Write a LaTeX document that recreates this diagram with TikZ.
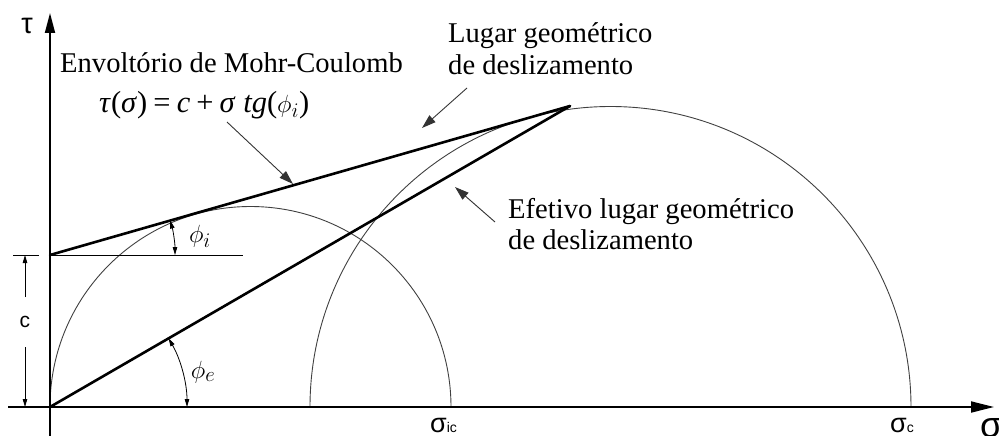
\documentclass[tikz,border=0pt]{standalone}
\usepackage{fontspec}
\setmainfont{Liberation Serif}
\newfontfamily\sansf{Liberation Sans}
\usetikzlibrary{arrows.meta}
\begin{document}
\begin{tikzpicture}[x=1pt,y=-1pt,
  txt/.style={font=\fontsize{28.6}{31.5}\selectfont, inner sep=0pt, anchor=base west},
  circ/.style={line width=0.9pt, black!75},
  thickl/.style={line width=2.6pt, line join=round, line cap=round},
  axisl/.style={line width=1.8pt},
  thinl/.style={line width=0.8pt},
  ann/.style={line width=0.9pt, black!80, -{Triangle[length=14pt,width=9pt]}},
  smallarr/.style={thinl, -{Triangle[length=8pt,width=4.5pt]}},
  dblarr/.style={thinl, {Triangle[length=8pt,width=4.5pt]}-{Triangle[length=8pt,width=4.5pt]}},
  sanslab/.style={font=\sansf\fontsize{27}{30}\selectfont, inner sep=0pt, anchor=base west}]
\useasboundingbox (0,0) rectangle (999,436);
% key points
\coordinate (O) at (50,407);
\coordinate (C) at (50,255);
\coordinate (A) at (570,106);
\coordinate (H) at (243,255);
\coordinate (Yb) at (50,436);
\coordinate (Yt) at (50,13);
\coordinate (Xl) at (8,407);
\coordinate (Xr) at (994,407);
\coordinate (BL) at (310,407);
% Mohr circles
\draw[circ] (O) arc[start angle=180, end angle=360, radius=200.5];
\draw[circ] (BL) arc[start angle=180, end angle=360, radius=300.5];
% horizontal reference and tick
\draw[thinl] (C) -- (H);
\coordinate (T1) at (13,255);
\coordinate (T2) at (39,255);
\draw[thinl] (T1) -- (T2);
% axes
\draw[axisl, -{Triangle[length=20pt,width=10pt]}] (Yb) -- (Yt);
\draw[axisl, -{Triangle[length=23pt,width=11pt]}] (Xl) -- (Xr);
% envelopes
\draw[thickl] (C) -- (A);
\draw[thickl] (O) -- (A);
% angle arcs
\coordinate (Pi) at (175,255);
\coordinate (Pe) at (187,407);
\draw[dblarr] (Pi) arc[start angle=0, end angle=-16, radius=125];
\draw[dblarr] (Pe) arc[start angle=0, end angle=-30.07, radius=137];
\node[font=\fontsize{29}{30}\selectfont, inner sep=0pt] (phii) at (200,236) {$\phi_i$};
\node[font=\fontsize{29}{30}\selectfont, inner sep=0pt] (phie) at (203,372) {$\phi_e$};
% c dimension
\node[font=\sansf\fontsize{21}{24}\selectfont, inner sep=0pt] (clab) at (25,322) {c};
\coordinate (cT) at (25,297);
\coordinate (cB) at (25,347);
\coordinate (cTe) at (25,255);
\coordinate (cBe) at (25,407);
\draw[smallarr] (cT) -- (cTe);
\draw[smallarr] (cB) -- (cBe);
% axis labels
\node[font=\sansf\fontsize{29}{30}\selectfont, inner sep=0pt] (tau) at (27,26) {τ};
\node[font=\sansf\fontsize{36}{38}\selectfont, inner sep=0pt, anchor=base west] (sig) at (980,437) {σ};
\node[sanslab] (sic) at (430,432) {σ{\fontsize{14}{14}\selectfont ic}};
\node[sanslab] (sc) at (890,432) {σ{\fontsize{14}{14}\selectfont c}};
% texts
\node[txt] (env) at (60,73) {Envoltório de Mohr-Coulomb};
\node[txt, font=\fontsize{30.5}{32}\selectfont] (eq) at (99,112) {\textit{τ}(\textit{σ})\hspace{0.2em}=\hspace{0.2em}\textit{c}\hspace{0.2em}+\hspace{0.2em}\textit{σ}~\textit{tg}($\phi_i$)};
\node[txt] (lug) at (448,43) {\begin{tabular}[t]{@{}l@{}}Lugar geométrico\\de deslizamento\end{tabular}};
\node[txt] (efe) at (508,218) {\begin{tabular}[t]{@{}l@{}}Efetivo lugar geométrico\\de deslizamento\end{tabular}};
% annotation arrows
\coordinate (eqS) at (227,122);
\coordinate (eqE) at (293,184);
\coordinate (lgS) at (467,88);
\coordinate (lgE) at (422,128);
\coordinate (efS) at (495,222);
\coordinate (efE) at (455,187);
\draw[ann] (eqS) -- (eqE);
\draw[ann] (lgS) -- (lgE);
\draw[ann] (efS) -- (efE);
\end{tikzpicture}
\end{document}
